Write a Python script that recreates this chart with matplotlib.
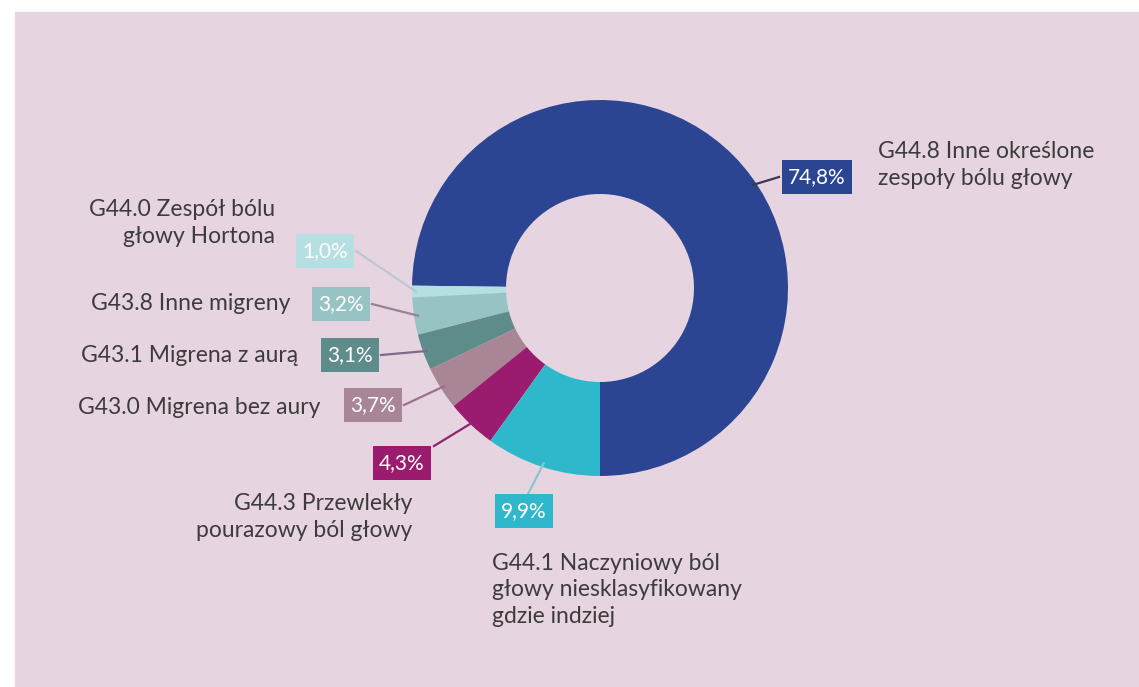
import numpy as np
import matplotlib.pyplot as plt
from matplotlib.patches import Rectangle

plt.rcParams['font.family'] = ['Lato', 'DejaVu Sans']

labels = ['G44.8 Inne określone\nzespoły bólu głowy',
          'G44.0 Zespół bólu\ngłowy Hortona',
          'G43.8 Inne migreny',
          'G43.1 Migrena z aurą',
          'G43.0 Migrena bez aury',
          'G44.3 Przewlekły\npourazowy ból głowy',
          'G44.1 Naczyniowy ból\ngłowy niesklasyfikowany\ngdzie indziej']
values = [74.8, 1.0, 3.2, 3.1, 3.7, 4.3, 9.9]
pct_text = ['74,8%', '1,0%', '3,2%', '3,1%', '3,7%', '4,3%', '9,9%']
colors = ['#2c4592', '#b6dfe2', '#97c3c5', '#5e8c8b', '#a88696', '#9b1b6e', '#2fb8cc']

W, H = 1139, 687
fig = plt.figure(figsize=(W / 100, H / 100), dpi=100)
fig.patch.set_facecolor('white')
ax = fig.add_axes([0, 0, 1, 1])

bg = '#e6d5e1'
ax.add_patch(Rectangle((15, 0), W - 15, H - 12, color=bg, zorder=0))

cx, cy, R = 600, H - 288, 188
ax.pie(values, colors=colors, startangle=-90, counterclock=True,
       center=(cx, cy), radius=R, wedgeprops=dict(width=R * 0.5, linewidth=0),
       frame=True)
ax.set_xlim(0, W)
ax.set_ylim(0, H)
ax.set_aspect('equal')
ax.axis('off')

# layout: box centre (image coords), label anchor, alignment
box_pos = [(817, 177), (325, 251), (341, 304), (350, 355), (373, 405), (402, 463), (524, 511)]
lbl_pos = [(878, 165, 'left'), (275, 223, 'right'), (290, 304, 'right'),
           (298, 355, 'right'), (320, 407, 'right'), (412, 517, 'right'),
           (492, 590, 'left')]
line_col = ['#3a3550', '#b9c9cf', '#9a8296', '#7d6a86', '#9c6f8c', '#8d2470', '#8cc3cf']
anchor_deg = [34, None, None, None, None, None, None]

cum = np.cumsum([0] + values)
for i, v in enumerate(values):
    ang = anchor_deg[i] if anchor_deg[i] is not None else -90 + 3.6 * (cum[i] + v / 2)
    mid = np.deg2rad(ang)
    sx, sy = cx + R * 0.98 * np.cos(mid), cy + R * 0.98 * np.sin(mid)
    bx, by = box_pos[i]
    by = H - by
    if i == 0:
        ex, ey = bx - 38, by
    elif i == 5:
        ex, ey = bx + 32, by + 17
    elif i == 6:
        ex, ey = bx + 4, by + 17
    else:
        ex, ey = bx + 31, by
    ax.plot([sx, ex], [sy, ey], color=line_col[i], lw=1.6, zorder=1)
    ax.text(bx, by, pct_text[i], ha='center', va='center', color='white',
            fontsize=15, zorder=3,
            bbox=dict(boxstyle='square,pad=0.32', fc=colors[i], ec='none'))
    lx, ly, ha = lbl_pos[i]
    ax.text(lx, H - ly, labels[i], ha=ha, va='center', color='#3d3b3e',
            fontsize=16.5, linespacing=1.3, multialignment=ha)

fig.savefig('out.png', dpi=100, facecolor=fig.get_facecolor())
